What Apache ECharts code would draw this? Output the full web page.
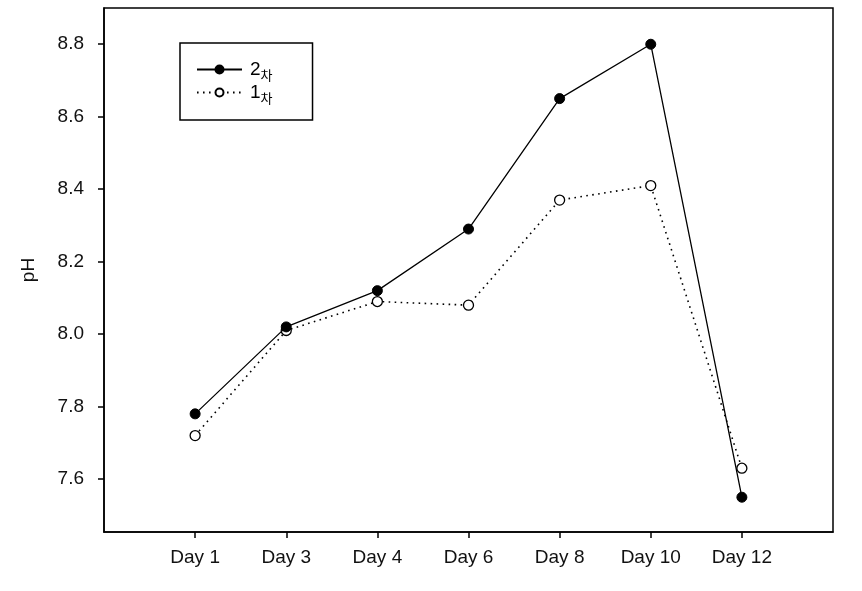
<!DOCTYPE html>
<html>
<head>
<meta charset="utf-8">
<script src="https://cdn.jsdelivr.net/npm/echarts@6/dist/echarts.min.js"></script>
<style>
  html, body { margin: 0; padding: 0; background: #fff; }
  #main { width: 862px; height: 591px; }
</style>
</head>
<body>
<div id="main"></div>
<script>
// data
var days = ['Day 1', 'Day 3', 'Day 4', 'Day 6', 'Day 8', 'Day 10', 'Day 12'];
var second = [7.78, 8.02, 8.12, 8.29, 8.65, 8.80, 7.55];   // 2차
var first = [7.72, 8.01, 8.09, 8.08, 8.37, 8.41, 7.63];    // 1차
var yTicks = [7.6, 7.8, 8.0, 8.2, 8.4, 8.6, 8.8];

var font = 'Liberation Sans, Arial, sans-serif';
var dayPos = days.map(function (d, i) { return i + 1; });

function toPoints(vals) {
    return vals.map(function (v, i) { return [i + 1, v]; });
}

var myChart = echarts.init(document.getElementById('main'));

var option = {
    backgroundColor: '#fff',
    animation: false,
    grid: {
        left: 104,
        right: 29,
        top: 8,
        bottom: 59,
        show: true,
        borderColor: '#000',
        borderWidth: 1.5,
        containLabel: false
    },
    legend: {
        orient: 'vertical',
        left: 180,
        top: 43,
        padding: [17, 40, 15, 16],
        itemGap: 1,
        itemWidth: 45,
        itemHeight: 10,
        borderColor: '#000',
        borderWidth: 1.5,
        data: ['2차', '1차'],
        formatter: function (name) {
            return '{n|' + name.charAt(0) + '}{s|' + name.charAt(1) + '}';
        },
        textStyle: {
            padding: [0, 0, 0, 3],
            rich: {
                n: { fontFamily: font, fontSize: 19, color: '#000', lineHeight: 19, verticalAlign: 'bottom' },
                s: { fontFamily: 'Noto Sans CJK KR', fontSize: 13, color: '#000', lineHeight: 19, verticalAlign: 'bottom', padding: [0, 0, -3, 0] }
            }
        }
    },
    xAxis: {
        type: 'value',
        min: 0,
        max: days.length + 1,
        splitLine: { show: false },
        axisLine: { lineStyle: { color: '#000', width: 1.5 } },
        axisTick: {
            customValues: dayPos,
            length: 6,
            inside: false,
            lineStyle: { color: '#000', width: 1.5 }
        },
        axisLabel: {
            customValues: dayPos,
            margin: 16,
            color: '#111',
            fontFamily: font,
            fontSize: 19,
            formatter: function (v) { return days[v - 1]; }
        }
    },
    yAxis: {
        type: 'value',
        min: 7.454,
        max: 8.9,
        name: 'pH',
        nameLocation: 'middle',
        nameRotate: 90,
        nameGap: 66,
        nameTextStyle: { color: '#111', fontFamily: font, fontSize: 19 },
        splitLine: { show: false },
        axisLine: { lineStyle: { color: '#000', width: 1.5 } },
        axisTick: {
            customValues: yTicks,
            length: 6,
            lineStyle: { color: '#000', width: 1.5 }
        },
        axisLabel: {
            customValues: yTicks,
            margin: 20,
            color: '#111',
            fontFamily: font,
            fontSize: 19,
            formatter: function (v) { return v.toFixed(1); }
        }
    },
    series: [
        {
            name: '2차',
            type: 'line',
            data: toPoints(second),
            symbol: 'circle',
            symbolSize: 10,
            itemStyle: { color: '#000', borderColor: '#000', borderWidth: 1 },
            lineStyle: { color: '#000', width: 1.3, type: 'solid' },
            z: 3
        },
        {
            name: '1차',
            type: 'line',
            data: toPoints(first),
            symbol: 'circle',
            symbolSize: 10,
            itemStyle: { color: '#fff', borderColor: '#000', borderWidth: 1.3 },
            lineStyle: { color: '#000', width: 1.6, type: [1.6, 4.4] },
            z: 2
        }
    ]
};

myChart.setOption(option);
</script>
</body>
</html>
